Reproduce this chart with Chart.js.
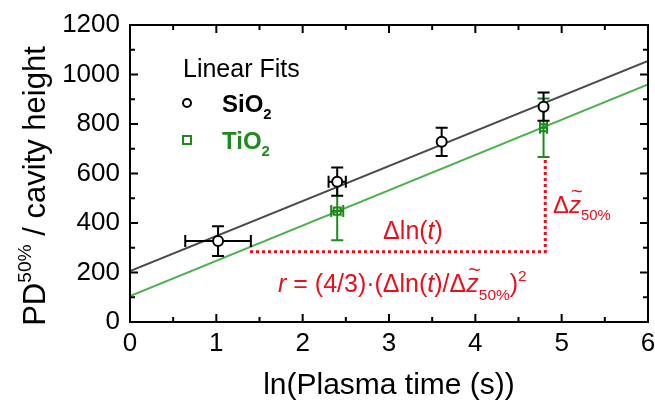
<!DOCTYPE html>
<html><head><meta charset="utf-8">
<script src="https://cdn.jsdelivr.net/npm/chart.js@4/dist/chart.umd.min.js"></script>
<style>html,body{margin:0;padding:0;background:#fff;} #wrap{width:655px;height:403px;position:relative;}</style>
</head><body><div id="wrap"><canvas id="c" width="655" height="403"></canvas></div>
<script>
// ---- data ----
const xTicks = [0, 1, 2, 3, 4, 5, 6];
const yTicks = [0, 200, 400, 600, 800, 1000, 1200];
const sio2X = [1.02, 2.40, 3.61, 4.79];
const sio2Y = [327, 567, 728, 870];
const sio2YErr = [60, 57, 57, 57];
const sio2XErr = [0.38, 0.10, 0, 0];
const tio2X = [2.40, 4.79];
const tio2Y = [448, 785];
const tio2YErr = [118, 118];
const tio2XErr = [0.07, 0.04];
const sio2FitX = [0, 6];
const sio2FitY = [206, 1055];
const tio2FitX = [0, 6];
const tio2FitY = [105, 960];
const guideX = [1.39, 4.81, 4.81];
const guideY = [284, 284, 655];
const legendTitle = 'Linear Fits';
const seriesNames = ['SiO', 'TiO'];
const xTitle = 'ln(Plasma time (s))';

const FONT = '"Liberation Sans", Arial, Helvetica, sans-serif';
const BLACK = '#000000', FITGREY = '#4a4a4a', GREEN = '#1e8a1e', FITGREEN = '#4cb04c', RED = '#e8101c';

const pts = (xs, ys) => xs.map((x, i) => ({x: x, y: ys[i]}));

function drawRich(ctx, x, y, segs, size, align, color) {
  const fontFor = s => (s.it ? 'italic ' : '') + (s.bold ? 'bold ' : '') + ((s.sub || s.sup) ? size * 0.62 : size) + 'px ' + FONT;
  let w = 0;
  segs.forEach(s => { ctx.font = fontFor(s); s.w = ctx.measureText(s.t).width; w += s.w; });
  let cx = align === 'center' ? x - w / 2 : (align === 'right' ? x - w : x);
  ctx.fillStyle = color;
  ctx.textBaseline = 'alphabetic';
  ctx.textAlign = 'left';
  segs.forEach(s => {
    ctx.font = fontFor(s);
    let dy = s.sub ? size * 0.3 : (s.sup ? -size * 0.45 : 0);
    ctx.fillText(s.t, cx, y + dy);
    if (s.tilde) {
      ctx.font = (size * 0.85) + 'px ' + FONT;
      const tw = ctx.measureText('~').width;
      ctx.fillText('~', cx + s.w / 2 - tw / 2 + size * 0.08, y - size * 0.62);
    }
    cx += s.w;
  });
}

const errPlugin = {
  id: 'errbars',
  beforeDatasetDraw(chart, args) {
    const i = args.index;
    let xs, ys, ye, xe, col;
    if (i === 0) { xs = sio2X; ys = sio2Y; ye = sio2YErr; xe = sio2XErr; col = BLACK; }
    else if (i === 1) { xs = tio2X; ys = tio2Y; ye = tio2YErr; xe = tio2XErr; col = GREEN; }
    else return;
    const sx = chart.scales.x, sy = chart.scales.y, ctx = chart.ctx;
    ctx.save();
    ctx.strokeStyle = col; ctx.lineWidth = 2;
    const cap = 6;
    xs.forEach((xv, k) => {
      const px = sx.getPixelForValue(xv);
      const py = sy.getPixelForValue(ys[k]);
      const t = sy.getPixelForValue(ys[k] + ye[k]), b = sy.getPixelForValue(ys[k] - ye[k]);
      ctx.beginPath();
      ctx.moveTo(px, t); ctx.lineTo(px, b);
      ctx.moveTo(px - cap, t); ctx.lineTo(px + cap, t);
      ctx.moveTo(px - cap, b); ctx.lineTo(px + cap, b);
      if (xe[k] > 0) {
        const l = sx.getPixelForValue(xv - xe[k]), r = sx.getPixelForValue(xv + xe[k]);
        ctx.moveTo(l, py); ctx.lineTo(r, py);
        ctx.moveTo(l, py - cap); ctx.lineTo(l, py + cap);
        ctx.moveTo(r, py - cap); ctx.lineTo(r, py + cap);
      }
      ctx.stroke();
    });
    ctx.restore();
  }
};

const framePlugin = {
  id: 'frame',
  afterDraw(chart) {
    const ctx = chart.ctx, a = chart.chartArea, sx = chart.scales.x, sy = chart.scales.y;
    ctx.save();
    ctx.strokeStyle = BLACK; ctx.lineWidth = 2;
    ctx.strokeRect(a.left, a.top, a.right - a.left, a.bottom - a.top);
    ctx.beginPath();
    for (let k = 0; k < xTicks.length; k++) {
      const v = xTicks[k];
      const p = sx.getPixelForValue(v);
      ctx.moveTo(p, a.bottom); ctx.lineTo(p, a.bottom - 8);
      ctx.moveTo(p, a.top); ctx.lineTo(p, a.top + 8);
      if (k < xTicks.length - 1) {
        const m = sx.getPixelForValue((v + xTicks[k + 1]) / 2);
        ctx.moveTo(m, a.bottom); ctx.lineTo(m, a.bottom - 5);
        ctx.moveTo(m, a.top); ctx.lineTo(m, a.top + 5);
      }
    }
    for (let k = 0; k < yTicks.length; k++) {
      const v = yTicks[k];
      const p = sy.getPixelForValue(v);
      ctx.moveTo(a.left, p); ctx.lineTo(a.left + 8, p);
      ctx.moveTo(a.right, p); ctx.lineTo(a.right - 8, p);
      if (k < yTicks.length - 1) {
        const m = sy.getPixelForValue((v + yTicks[k + 1]) / 2);
        ctx.moveTo(a.left, m); ctx.lineTo(a.left + 5, m);
        ctx.moveTo(a.right, m); ctx.lineTo(a.right - 5, m);
      }
    }
    ctx.stroke();

    // axis titles
    drawRich(ctx, (a.left + a.right) / 2 + 0, 394, [{t: xTitle}], 30, 'center', BLACK);
    ctx.save();
    ctx.translate(45, 186);
    ctx.rotate(-Math.PI / 2);
    drawRich(ctx, 0, 0, [{t: 'PD'}, {t: '50%', sup: true}, {t: ' / cavity height'}], 31, 'center', BLACK);
    ctx.restore();

    // legend
    drawRich(ctx, 183, 77, [{t: legendTitle}], 25, 'left', BLACK);
    ctx.lineWidth = 2;
    ctx.strokeStyle = BLACK;
    ctx.beginPath(); ctx.arc(187, 103, 4, 0, Math.PI * 2); ctx.stroke();
    drawRich(ctx, 222, 112, [{t: seriesNames[0], bold: true}, {t: '2', sub: true, bold: true}], 24, 'left', BLACK);
    ctx.strokeStyle = GREEN;
    ctx.strokeRect(183, 136, 8, 8);
    drawRich(ctx, 222, 149, [{t: seriesNames[1], bold: true}, {t: '2', sub: true, bold: true}], 24, 'left', GREEN);

    // annotations
    drawRich(ctx, 413, 239, [{t: 'Δln('}, {t: 't', it: true}, {t: ')'}], 25, 'center', RED);
    drawRich(ctx, 553, 213, [{t: 'Δ'}, {t: 'z', it: true, tilde: true}, {t: '50%', sub: true}], 24, 'left', RED);
    drawRich(ctx, 278, 292, [{t: 'r', it: true}, {t: ' = (4/3)·(Δln('}, {t: 't', it: true}, {t: ')/Δ'}, {t: 'z', it: true, tilde: true}, {t: '50%', sub: true}, {t: ')'}, {t: '2', sup: true}], 25, 'left', RED);
    ctx.restore();
  }
};

new Chart(document.getElementById('c'), {
  type: 'scatter',
  data: {
    datasets: [
      {label: 'SiO2', data: pts(sio2X, sio2Y), pointStyle: 'circle', pointRadius: 5, borderWidth: 2,
       borderColor: BLACK, backgroundColor: '#ffffff', showLine: false},
      {label: 'TiO2', data: pts(tio2X, tio2Y), pointStyle: 'rect', pointRadius: 5, borderWidth: 2,
       borderColor: GREEN, backgroundColor: 'rgba(30,138,30,0.15)', showLine: false},
      {label: 'SiO2 fit', data: pts(sio2FitX, sio2FitY), showLine: true, borderColor: FITGREY, borderWidth: 2, pointRadius: 0},
      {label: 'TiO2 fit', data: pts(tio2FitX, tio2FitY), showLine: true, borderColor: FITGREEN, borderWidth: 2, pointRadius: 0},
      {label: 'guide', data: pts(guideX, guideY), showLine: true, borderColor: RED, borderWidth: 3,
       borderDash: [3, 3], pointRadius: 0, clip: false}
    ]
  },
  options: {
    responsive: false,
    animation: false,
    devicePixelRatio: 1,
    layout: {padding: {left: 0, right: 5, top: 25, bottom: 0}},
    plugins: {legend: {display: false}, tooltip: {enabled: false}},
    scales: {
      x: {
        type: 'linear', min: 0, max: 6,
        afterBuildTicks: s => { s.ticks = xTicks.map(v => ({value: v})); },
        afterFit: s => { s.height = 81; s.paddingRight = 0; s.paddingLeft = 0; },
        grid: {display: false, drawTicks: false},
        border: {display: false},
        ticks: {font: {family: FONT, size: 26}, color: BLACK, padding: 6, maxRotation: 0, autoSkip: false,
                callback: v => String(v)}
      },
      y: {
        type: 'linear', min: 0, max: 1200,
        afterBuildTicks: s => { s.ticks = yTicks.map(v => ({value: v})); },
        afterFit: s => { s.width = 130; s.paddingTop = 0; s.paddingBottom = 0; },
        grid: {display: false, drawTicks: false},
        border: {display: false},
        ticks: {font: {family: FONT, size: 26}, color: BLACK, padding: 10, autoSkip: false,
                callback: v => String(v)}
      }
    }
  },
  plugins: [errPlugin, framePlugin]
});
</script>
</body></html>
